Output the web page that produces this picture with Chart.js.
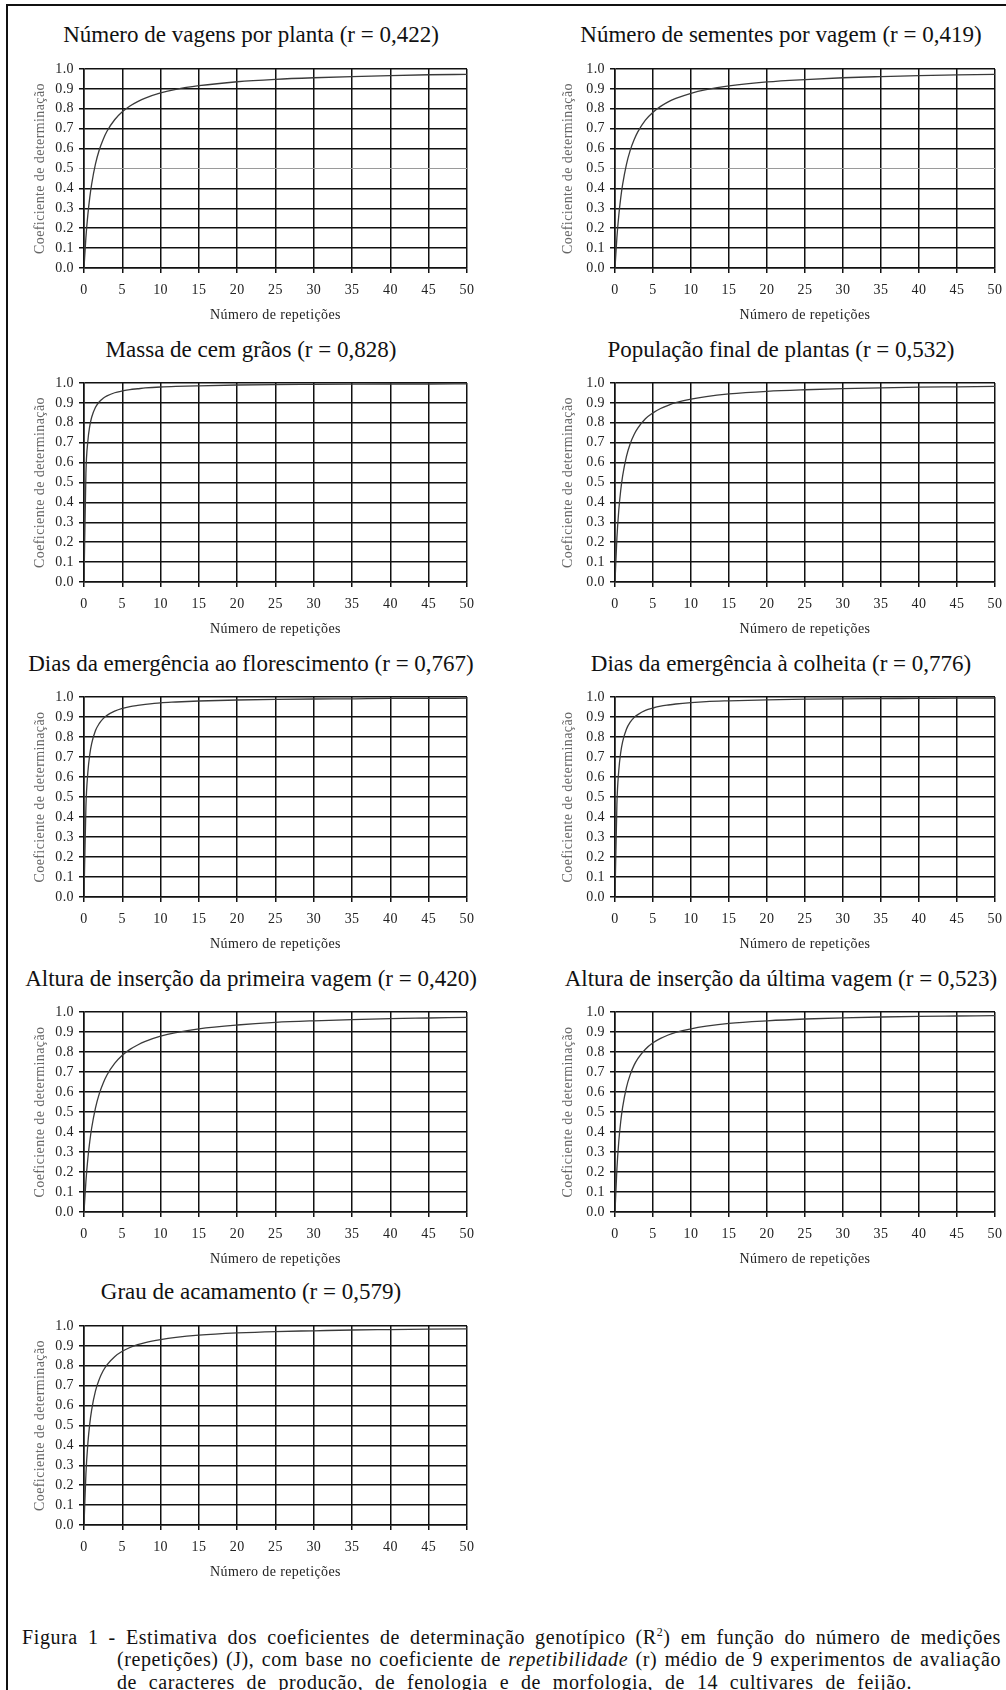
<!DOCTYPE html>
<html lang="pt">
<head>
<meta charset="utf-8">
<title>Figura 1 - Coeficientes de determinação genotípico</title>
<script src="https://cdn.jsdelivr.net/npm/chart.js@4.4.1/dist/chart.umd.min.js"></script>
<style>
  html, body { margin: 0; padding: 0; background: #fff; }
  body { position: relative; width: 1006px; height: 1690px; overflow: hidden;
         font-family: "Liberation Serif", "Times New Roman", serif; color: #111; }
  #moldura { position: absolute; left: 6px; top: 4px; width: 1010px; height: 1700px;
             border-top: 2px solid #111; border-left: 2px solid #111; }
  .titulo { position: absolute; width: 500px; text-align: center; font-size: 23px;
            line-height: 26px; white-space: nowrap; color: #111; }
  canvas { position: absolute; }
  .legenda { position: absolute; font-size: 20px; line-height: 23px; letter-spacing: 0.6px;
             text-align: justify; text-align-last: justify; color: #111; }
  .legenda sup { font-size: 12px; line-height: 0; }
</style>
</head>
<body>
<div id="moldura"></div>

<div class="legenda" style="left:22px; top:1626px; width:979px;">Figura 1 - Estimativa dos coeficientes de determinação genotípico (R<sup>2</sup>) em função do número de medições</div>
<div class="legenda" style="left:117px; top:1648px; width:884px;">(repetições) (J), com base no coeficiente de <i>repetibilidade</i> (r) médio de 9 experimentos de avaliação</div>
<div class="legenda" style="left:117px; top:1671px; width:795px;">de caracteres de produção, de fenologia e de morfologia, de 14 cultivares de feijão.</div>

<script>
// Número de repetições (eixo x) onde a curva foi lida
const repeticoes = [0, 0.25, 0.5, 0.75, 1, 1.5, 2, 2.5, 3, 4, 5, 6, 7, 8, 10, 12, 15, 20, 25, 30, 35, 40, 45, 50];

// Coeficiente de determinação lido em cada painel
const vagensPorPlanta   = [0, 0.154, 0.267, 0.354, 0.422, 0.523, 0.594, 0.646, 0.687, 0.745, 0.785, 0.814, 0.836, 0.854, 0.880, 0.898, 0.916, 0.936, 0.948, 0.956, 0.962, 0.967, 0.971, 0.973];
const sementesPorVagem  = [0, 0.153, 0.265, 0.351, 0.419, 0.520, 0.591, 0.643, 0.684, 0.743, 0.783, 0.812, 0.835, 0.852, 0.878, 0.896, 0.915, 0.935, 0.947, 0.956, 0.962, 0.967, 0.970, 0.973];
const massaCemGraos     = [0, 0.546, 0.707, 0.783, 0.828, 0.878, 0.906, 0.923, 0.935, 0.951, 0.960, 0.967, 0.971, 0.975, 0.980, 0.983, 0.986, 0.990, 0.992, 0.993, 0.994, 0.995, 0.995, 0.996];
const populacaoFinal    = [0, 0.221, 0.362, 0.460, 0.532, 0.630, 0.695, 0.740, 0.773, 0.820, 0.850, 0.872, 0.888, 0.901, 0.919, 0.932, 0.945, 0.958, 0.966, 0.972, 0.976, 0.979, 0.981, 0.983];
const diasFlorescimento = [0, 0.451, 0.622, 0.712, 0.767, 0.832, 0.868, 0.892, 0.908, 0.929, 0.943, 0.952, 0.958, 0.963, 0.971, 0.975, 0.980, 0.985, 0.988, 0.990, 0.991, 0.993, 0.993, 0.994];
const diasColheita      = [0, 0.464, 0.634, 0.722, 0.776, 0.839, 0.874, 0.897, 0.912, 0.933, 0.945, 0.954, 0.960, 0.965, 0.972, 0.977, 0.981, 0.986, 0.989, 0.991, 0.992, 0.993, 0.994, 0.994];
const primeiraVagem     = [0, 0.153, 0.266, 0.352, 0.420, 0.521, 0.592, 0.644, 0.685, 0.743, 0.784, 0.813, 0.835, 0.853, 0.879, 0.897, 0.916, 0.935, 0.948, 0.956, 0.962, 0.967, 0.970, 0.973];
const ultimaVagem       = [0, 0.215, 0.354, 0.451, 0.523, 0.622, 0.687, 0.733, 0.767, 0.814, 0.846, 0.868, 0.885, 0.898, 0.916, 0.929, 0.943, 0.956, 0.965, 0.971, 0.975, 0.978, 0.980, 0.982];
const acamamento        = [0, 0.256, 0.408, 0.508, 0.579, 0.674, 0.733, 0.775, 0.805, 0.846, 0.873, 0.892, 0.906, 0.917, 0.932, 0.943, 0.954, 0.965, 0.972, 0.976, 0.980, 0.982, 0.984, 0.986];

const titulos = [
  'Número de vagens por planta (r = 0,422)',
  'Número de sementes por vagem (r = 0,419)',
  'Massa de cem grãos (r = 0,828)',
  'População final de plantas (r = 0,532)',
  'Dias da emergência ao florescimento (r = 0,767)',
  'Dias da emergência à colheita (r = 0,776)',
  'Altura de inserção da primeira vagem (r = 0,420)',
  'Altura de inserção da última vagem (r = 0,523)',
  'Grau de acamamento (r = 0,579)'
];
const series = [vagensPorPlanta, sementesPorVagem, massaCemGraos, populacaoFinal,
                diasFlorescimento, diasColheita, primeiraVagem, ultimaVagem, acamamento];

// Posições na página (px)
const colunas = [
  { esquerda: 10,  largura: 480, eixoY: 74,  direita: 23, tituloY: 21.6, centro: 251 },
  { esquerda: 505, largura: 501, eixoY: 110, direita: 11, tituloY: 54.6, centro: 781 }
];
const linhas = [
  { topo: 69,   base: 268,  linhaTitulo: 43 },
  { topo: 383,  base: 582,  linhaTitulo: 358 },
  { topo: 697,  base: 897,  linhaTitulo: 672 },
  { topo: 1012, base: 1212, linhaTitulo: 987 },
  { topo: 1326, base: 1525, linhaTitulo: 1300 }
];

const FONTE = '"Liberation Serif", "Times New Roman", serif';
const MARGEM_TOPO = 12;
const ALTURA_EIXO_X = 60;

// Espaçamento entre letras nos textos do canvas
const espacamento = {
  id: 'espacamento',
  beforeDraw(chart) { chart.ctx.letterSpacing = '0.4px'; }
};

function desenharPainel(i) {
  const col = colunas[i % 2];
  const lin = linhas[Math.floor(i / 2)];
  const linhaClara = i < 2; // nos dois primeiros a linha de 0.5 é cinza

  const titulo = document.createElement('div');
  titulo.className = 'titulo';
  titulo.textContent = titulos[i];
  titulo.style.left = (col.centro - 250) + 'px';
  titulo.style.top = (lin.linhaTitulo - 20.8) + 'px';
  document.body.appendChild(titulo);

  const canvas = document.createElement('canvas');
  const altura = MARGEM_TOPO + (lin.base - lin.topo) + ALTURA_EIXO_X;
  canvas.width = col.largura;
  canvas.height = altura;
  canvas.style.left = col.esquerda + 'px';
  canvas.style.top = (lin.topo - MARGEM_TOPO) + 'px';
  canvas.style.width = col.largura + 'px';
  canvas.style.height = altura + 'px';
  document.body.appendChild(canvas);

  const serie = series[i];
  new Chart(canvas, {
    type: 'line',
    data: {
      datasets: [{
        data: repeticoes.map((x, k) => ({ x: x, y: serie[k] })),
        borderColor: '#3a3a3a',
        borderWidth: 1.3,
        pointRadius: 0,
        fill: false,
        cubicInterpolationMode: 'monotone'
      }]
    },
    options: {
      responsive: false,
      animation: false,
      devicePixelRatio: 1,
      layout: { padding: { top: MARGEM_TOPO, right: col.direita, bottom: 0, left: 0 } },
      plugins: { legend: { display: false }, tooltip: { enabled: false } },
      scales: {
        x: {
          type: 'linear',
          min: 0,
          max: 50,
          ticks: { stepSize: 5, padding: 8.6, color: '#222', maxRotation: 0, autoSkip: false,
                   font: { family: FONTE, size: 14 } },
          grid: { color: '#111', lineWidth: 1.5, tickLength: 5 },
          border: { color: '#111', width: 1.5 },
          title: { display: true, text: 'Número de repetições', color: '#222',
                   font: { family: FONTE, size: 14 }, padding: { top: 0, bottom: 4.1 } },
          afterFit(s) { s.height = ALTURA_EIXO_X; s.paddingLeft = 0; s.paddingRight = 0; }
        },
        y: {
          min: 0,
          max: 1,
          ticks: { stepSize: 0.1, padding: 5, color: '#222', font: { family: FONTE, size: 14 },
                   callback: v => v.toFixed(1) },
          grid: {
            color: ctx => (linhaClara && ctx.tick && Math.abs(ctx.tick.value - 0.5) < 1e-6) ? '#9a9a9a' : '#111',
            lineWidth: ctx => (linhaClara && ctx.tick && Math.abs(ctx.tick.value - 0.5) < 1e-6) ? 1 : 1.5,
            tickLength: 5
          },
          border: { color: '#111', width: 1.5 },
          title: { display: true, text: 'Coeficiente de determinação', color: '#666',
                   font: { family: FONTE, size: 14 }, padding: { top: col.tituloY, bottom: 0 } },
          afterFit(s) { s.width = col.eixoY; s.paddingTop = 0; s.paddingBottom = 0; }
        }
      }
    },
    plugins: [espacamento]
  });
}

for (let i = 0; i < titulos.length; i++) desenharPainel(i);
</script>
</body>
</html>
